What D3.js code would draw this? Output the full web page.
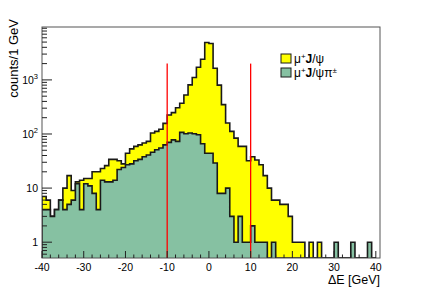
<!DOCTYPE html>
<html><head><meta charset="utf-8">
<script src="https://cdn.jsdelivr.net/npm/d3@7"></script>
<style>body{margin:0;background:#fff;} svg{display:block;font-family:"Liberation Sans",Arial,sans-serif;}</style>
</head><body>
<svg id="c" width="423" height="287"></svg>
<script>
// bin lower edges [GeV], 1 GeV bins
const binLow = [-40,-39,-38,-37,-36,-35,-34,-33,-32,-31,-30,-29,-28,-27,-26,-25,-24,-23,-22,-21,
  -20,-19,-18,-17,-16,-15,-14,-13,-12,-11,-10,-9,-8,-7,-6,-5,-4,-3,-2,-1,
  0,1,2,3,4,5,6,7,8,9,10,11,12,13,14,15,16,17,18,19,
  20,21,22,23,24,25,26,27,28,29,30,31,32,33,34,35,36,37,38,39];
// mu+ J/psi
const muJpsi = [7,6,3,4,6,10,17,9,13,14,15,15,20,20,23,26,34,34,32,28,
  44,53,59,63,68,73,104,112,122,157,225,248,305,369,527,808,1104,1718,2406,4900,
  4700,1640,800,349,160,112,84,59,59,32,38,33,27,17,10,6,6,5,5,3,
  1,1,1,0,1,0,1,0,0,0,0,0,0,0,0,0,0,0,0,0];
// mu+ J/psi pi+-
const muJpsiPi = [4,4,3,4,6,4,5,6,12,4,12,11,8,4,14,13,13,14,22,24,
  27,28,32,34,38,41,46,51,55,63,70,78,73,107,101,104,101,97,66,44,
  44,29,8,8,10,3,1,3,1,1,2,1,1,1,0,1,0,0,0,0,
  0,0,0,0,0,0,0,0,0,0,1,0,0,0,1,0,0,0,1,0];
const xTicks = [-40,-30,-20,-10,0,10,20,30,40];
const yTicks = [1,10,100,1000];
const yTickLabels = [["1",""],["10",""],["10","2"],["10","3"]];
const cutLines = [-10,10];
const cutTop = 2000;
const legendLabels = [["μ","+","J/ψ",""],["μ","+","J/ψπ","±"]];
const colors = ["#ffff00","#86c1a2"];

const L=42, R=380, T=27, B=258;
const svg = d3.select("#c");
const x = d3.scaleLinear().domain([-40,41]).range([L,R]);
const y = d3.scaleLog().domain([0.51,9500]).range([B,T]);

svg.append("clipPath").attr("id","clip").append("rect").attr("x",L).attr("y",T).attr("width",R-L).attr("height",B-T);
const g = svg.append("g").attr("clip-path","url(#clip)");

function histPath(vals){
  let p = "M"+x(binLow[0])+","+B;
  vals.forEach((v,i)=>{
    const yy = v>0 ? y(v) : B;
    p += "L"+x(binLow[i])+","+yy+"L"+x(binLow[i]+1)+","+yy;
  });
  p += "L"+x(binLow[binLow.length-1]+1)+","+B;
  return p;
}
[muJpsi, muJpsiPi].forEach((vals,i)=>{
  g.append("path").attr("d",histPath(vals)+"Z").attr("fill",colors[i]).attr("stroke","none");
  g.append("path").attr("d",histPath(vals)).attr("fill","none").attr("stroke","#1a1a1a").attr("stroke-width",1.6).attr("stroke-linejoin","miter");
});
cutLines.forEach(c=>{
  g.append("line").attr("x1",x(c)).attr("x2",x(c)).attr("y1",y(cutTop)).attr("y2",B)
   .attr("stroke","#ff0000").attr("stroke-width",1.3);
});

// frame
svg.append("rect").attr("x",L).attr("y",T).attr("width",R-L).attr("height",B-T).attr("fill","none").attr("stroke","#555").attr("stroke-width",1);
// x axis ticks
const ax = svg.append("g").attr("stroke","#222").attr("stroke-width",1);
for(let v=-40; v<=40; v+=2){
  const major = v%10===0;
  ax.append("line").attr("x1",x(v)).attr("x2",x(v)).attr("y1",B).attr("y2",B-(major?7:3.5));
}
xTicks.forEach(v=>{
  svg.append("text").attr("x",x(v)).attr("y",B+13).attr("text-anchor","middle").attr("font-size",10.5).attr("fill","#000").text(v);
});
// y axis ticks
const minors=[];
[0.1,1,10,100,1000].forEach(d=>{ for(let m=1;m<10;m++){ const v=d*m; if(v>=0.51&&v<=9500) minors.push(v);} });
minors.forEach(v=>{
  const major = yTicks.includes(v);
  ax.append("line").attr("x1",L).attr("x2",L+(major?10:5)).attr("y1",y(v)).attr("y2",y(v));
});
yTicks.forEach((v,i)=>{
  const t = svg.append("text").attr("x",L-4).attr("y",y(v)+4).attr("text-anchor","end").attr("font-size",10.5).attr("fill","#000");
  t.append("tspan").text(yTickLabels[i][0]);
  if(yTickLabels[i][1]) t.append("tspan").attr("dy",-5).attr("font-size",7.5).text(yTickLabels[i][1]);
});
// titles
svg.append("text").attr("transform","translate(18,19) rotate(-90)").attr("text-anchor","end").attr("font-size",13).attr("fill","#000").text("counts/1 GeV");
svg.append("text").attr("x",R).attr("y",284).attr("text-anchor","end").attr("font-size",12.5).attr("fill","#000").text("ΔE [GeV]");

// legend
legendLabels.forEach((lab,i)=>{
  const yy = 59 + i*14;
  svg.append("rect").attr("x",281).attr("y",yy-5).attr("width",10).attr("height",9).attr("fill",colors[i]).attr("stroke","#1a1a1a").attr("stroke-width",1);
  const t = svg.append("text").attr("x",294).attr("y",yy+4).attr("font-size",12).attr("fill","#000");
  t.append("tspan").text(lab[0]);
  t.append("tspan").attr("dy",-4).attr("font-size",8).text(lab[1]);
  t.append("tspan").attr("dy",4).attr("font-weight","bold").text("J");
  t.append("tspan").text(lab[2].slice(1));
  if(lab[3]) t.append("tspan").attr("dy",-4).attr("font-size",8).text(lab[3]);
});
</script>
</body></html>
